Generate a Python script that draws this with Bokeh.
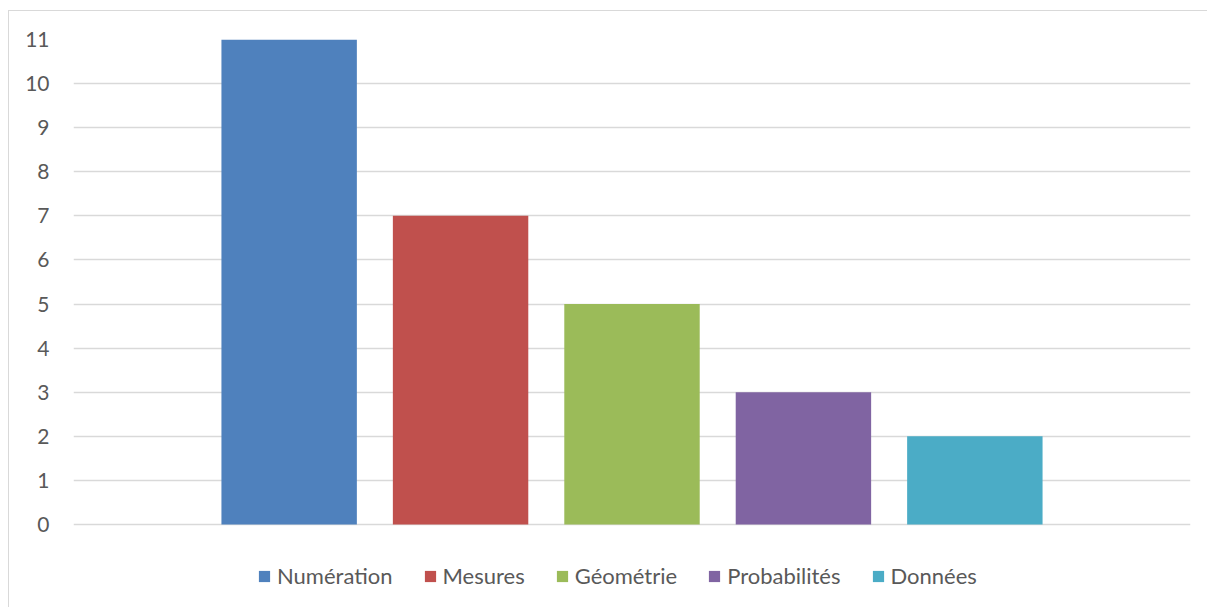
from bokeh.plotting import figure
from bokeh.models import Range1d, Legend, LegendItem, FixedTicker, ColumnDataSource
from bokeh.embed import file_html
from bokeh.resources import INLINE

series = ["Numération", "Mesures", "Géométrie", "Probabilités", "Données"]
values = [11, 7, 5, 3, 2]
colors = ["#4F81BD", "#C0504D", "#9BBB59", "#8064A2", "#4BACC6"]
y_ticks = list(range(0, 12))

FONT = "Lato"
TXT = "#595959"

n = len(series)
slots = [i - (n - 1) / 2 for i in range(n)]

# frame: x 73..1190, y 39 (=11) .. bottom of canvas; 44.09 px per unit
y_bottom = -(597 + 11 - 524) / (485 / 11)

p = figure(width=1199, height=597, output_backend="svg", toolbar_location=None,
           x_range=Range1d(-3.258, 3.258), y_range=Range1d(y_bottom, 11),
           min_border_left=64, min_border_right=18, min_border_top=28, min_border_bottom=0,
           styles={"margin-left": "8px", "margin-top": "10px",
                   "border-left": "1px solid #D9D9D9", "border-top": "1px solid #D9D9D9"})
p.outline_line_color = None
p.xaxis.visible = False
p.xgrid.visible = False
p.ygrid.grid_line_color = "#D9D9D9"
p.ygrid.grid_line_width = 1.4
p.yaxis.ticker = FixedTicker(ticks=y_ticks)
p.yaxis.axis_line_color = None
p.yaxis.major_tick_line_color = None
p.yaxis.minor_tick_line_color = None
p.yaxis.major_label_text_font = FONT
p.yaxis.major_label_text_font_size = "21px"
p.yaxis.major_label_text_color = TXT
p.yaxis.major_label_standoff = 18

items = []
for s, v, c, x in zip(series, values, colors, slots):
    src = ColumnDataSource(dict(x=[x], top=[v]))
    r = p.vbar(x="x", top="top", bottom=0, width=0.79, source=src,
               fill_color=c, line_color=None)
    items.append(LegendItem(label=s, renderers=[r]))

legend = Legend(items=items, orientation="horizontal", location=(184, 19),
                label_text_font=FONT, label_text_font_size="22px", label_text_color=TXT,
                glyph_width=14, glyph_height=14, label_standoff=6, spacing=30,
                border_line_color=None, background_fill_alpha=0, margin=0, padding=0,
                label_height=20)
p.add_layout(legend)

open("out.html", "w").write(file_html(p, INLINE))
